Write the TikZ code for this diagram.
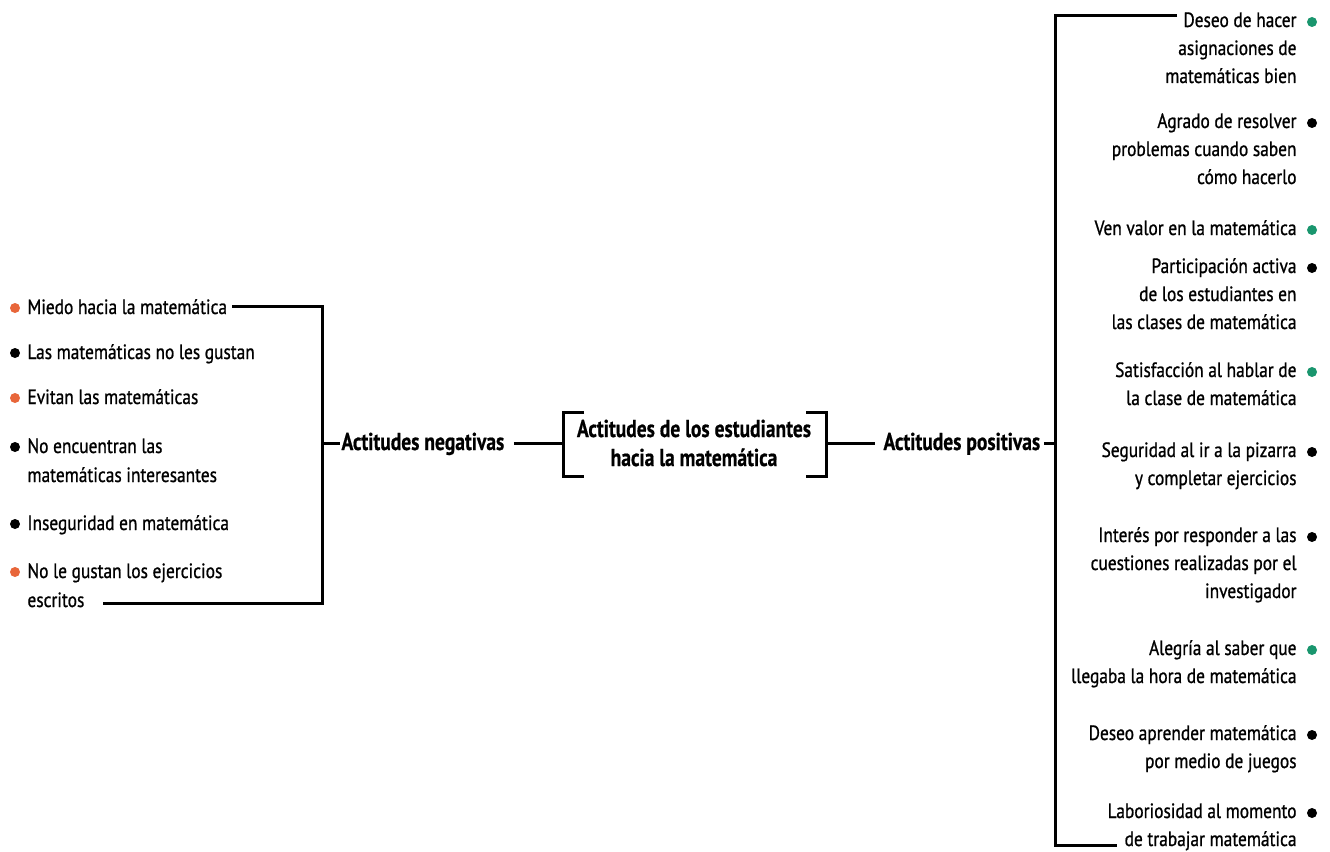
\documentclass[tikz,border=0pt]{standalone}
\usepackage{fontspec}
\setmainfont{PT Sans}[FakeStretch=0.84,UprightFeatures={FakeBold=0.9},BoldFeatures={FakeStretch=0.8,FakeBold=0.6}]
\definecolor{dotorange}{RGB}{232,102,58}
\definecolor{dotgreen}{RGB}{26,150,110}
\newcommand{\rlines}[1]{\begin{tabular}[t]{@{}r@{}}#1\end{tabular}}
\newcommand{\llines}[1]{\begin{tabular}[t]{@{}l@{}}#1\end{tabular}}
\newcommand{\clines}[1]{\begin{tabular}[t]{@{}c@{}}#1\end{tabular}}
\begin{document}
\begin{tikzpicture}[x=0.75pt,y=-0.75pt,line width=2.25pt,
  ritem/.style={inner sep=0pt,font=\fontsize{15.5}{21}\selectfont,anchor=base east},
  litem/.style={inner sep=0pt,font=\fontsize{15.5}{21.75}\selectfont,anchor=base west},
  head/.style={inner sep=0pt,font=\fontsize{18.3}{21.75}\selectfont\bfseries},
  dot/.style={circle,inner sep=0pt,minimum size=7.5pt,draw=none},
  conn/.style={line width=2.25pt}]
\useasboundingbox (0,0) rectangle (1330,852);
% left items
\node[litem] (l1) at (26,314) {Miedo hacia la matemática};
\node[litem] (l2) at (26,359) {Las matemáticas no les gustan};
\node[litem] (l3) at (26,404) {Evitan las matemáticas};
\node[litem] (l4) at (26,453) {\llines{No encuentran las\\matemáticas interesantes}};
\node[litem] (l5) at (26,530) {Inseguridad en matemática};
\node[litem] (l6) at (26,578) {\llines{No le gustan los ejercicios\\escritos}};
\node[dot,fill=dotorange] (ld1) at (15,308) {};
\node[dot,fill=black] (ld2) at (15,353) {};
\node[dot,fill=dotorange] (ld3) at (15,398) {};
\node[dot,fill=black] (ld4) at (15,447) {};
\node[dot,fill=black] (ld5) at (15,524) {};
\node[dot,fill=dotorange] (ld6) at (15,572) {};
% left bracket
\coordinate (lta) at (232,306);
\coordinate (lt) at (322,306);
\coordinate (lb) at (322,603);
\coordinate (lba) at (103,603);
\coordinate (lm) at (322,443);
\draw[conn] (lta) -- (lt) -- (lb) -- (lba);
\node[head,anchor=base west] (neg) at (340,450) {Actitudes negativas};
\draw[conn] (lm) -- (lm -| neg.west);
% center
\node[head,anchor=base] (c) at (694,437) {\clines{Actitudes de los estudiantes\\hacia la matemática}};
\coordinate (cl) at (563,443);
\coordinate (cr) at (826,443);
\draw[conn] (584,412) -- (563,412) -- (563,476) -- (584,476);
\draw[conn] (806,412) -- (826,412) -- (826,476) -- (806,476);
\draw[conn] ([xshift=6]neg.east |- cl) -- (cl);
\node[head,anchor=base west] (pos) at (882,450) {Actitudes positivas};
\draw[conn] (cr) -- ([xshift=-5]pos.west |- cr);
% right bracket
\coordinate (rm) at (1055,443);
\coordinate (rt) at (1055,16);
\coordinate (rta) at (1177,16);
\coordinate (rb) at (1055,845);
\coordinate (rba) at (1117,845);
\draw[conn] ([xshift=2]pos.east |- rm) -- (rm);
\draw[conn] (rta) -- (rt) -- (rb) -- (rba);
% right items
\node[ritem] (r1) at (1298,27) {\rlines{Deseo de hacer\\asignaciones de\\matemáticas bien}};
\node[ritem] (r2) at (1298,128) {\rlines{Agrado de resolver\\problemas cuando saben\\cómo hacerlo}};
\node[ritem] (r3) at (1298,235) {Ven valor en la matemática};
\node[ritem] (r4) at (1298,273) {\rlines{Participación activa\\de los estudiantes en\\las clases de matemática}};
\node[ritem] (r5) at (1298,377) {\rlines{Satisfacción al hablar de\\la clase de matemática}};
\node[ritem] (r6) at (1298,457) {\rlines{Seguridad al ir a la pizarra\\y completar ejercicios}};
\node[ritem] (r7) at (1298,542) {\rlines{Interés por responder a las\\cuestiones realizadas por el\\investigador}};
\node[ritem] (r8) at (1298,655) {\rlines{Alegría al saber que\\llegaba la hora de matemática}};
\node[ritem] (r9) at (1298,740) {\rlines{Deseo aprender matemática\\por medio de juegos}};
\node[ritem] (r10) at (1298,818) {\rlines{Laboriosidad al momento\\de trabajar matemática}};
\node[dot,fill=dotgreen] (rd1) at (1312,22) {};
\node[dot,fill=black] (rd2) at (1312,123) {};
\node[dot,fill=dotgreen] (rd3) at (1312,230) {};
\node[dot,fill=black] (rd4) at (1312,268) {};
\node[dot,fill=dotgreen] (rd5) at (1312,372) {};
\node[dot,fill=black] (rd6) at (1312,452) {};
\node[dot,fill=black] (rd7) at (1312,537) {};
\node[dot,fill=dotgreen] (rd8) at (1312,650) {};
\node[dot,fill=black] (rd9) at (1312,735) {};
\node[dot,fill=black] (rd10) at (1312,813) {};
\end{tikzpicture}
\end{document}
